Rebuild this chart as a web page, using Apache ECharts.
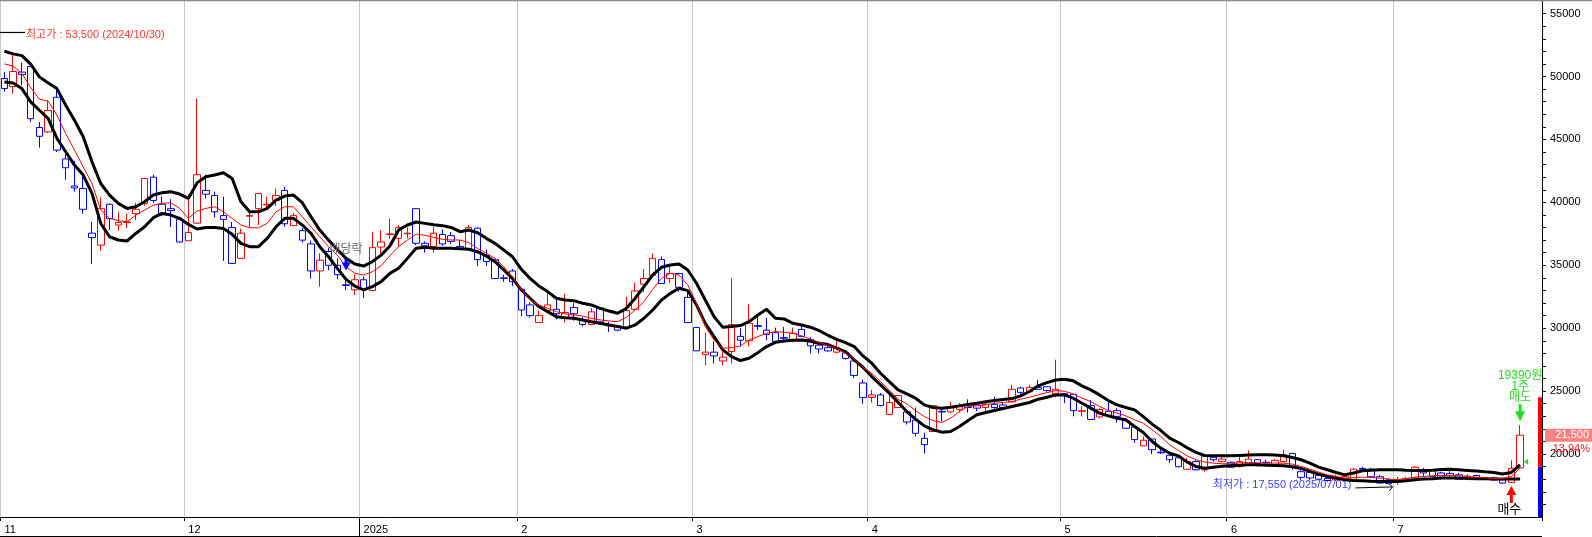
<!DOCTYPE html>
<html><head><meta charset="utf-8">
<script src="https://cdn.jsdelivr.net/npm/echarts@6/dist/echarts.min.js"></script>
<style>html,body{margin:0;padding:0;background:#fff}#c{width:1592px;height:537px}</style>
</head><body><div id="c"></div><script>
// ---- categories (trading days) ----
const dates = [
 '2024-11-01','2024-11-04','2024-11-05','2024-11-06','2024-11-07','2024-11-08','2024-11-11','2024-11-12','2024-11-13','2024-11-14','2024-11-15','2024-11-18','2024-11-19','2024-11-20','2024-11-21','2024-11-22','2024-11-25','2024-11-26','2024-11-27','2024-11-28','2024-11-29',
 '2024-12-02','2024-12-03','2024-12-04','2024-12-05','2024-12-06','2024-12-09','2024-12-10','2024-12-11','2024-12-12','2024-12-13','2024-12-16','2024-12-17','2024-12-18','2024-12-19','2024-12-20','2024-12-23','2024-12-24','2024-12-26','2024-12-27','2024-12-30',
 '2025-01-02','2025-01-03','2025-01-06','2025-01-07','2025-01-08','2025-01-09','2025-01-10','2025-01-13','2025-01-14','2025-01-15','2025-01-16','2025-01-17','2025-01-20','2025-01-21','2025-01-22','2025-01-23','2025-01-24','2025-01-31',
 '2025-02-03','2025-02-04','2025-02-05','2025-02-06','2025-02-07','2025-02-10','2025-02-11','2025-02-12','2025-02-13','2025-02-14','2025-02-17','2025-02-18','2025-02-19','2025-02-20','2025-02-21','2025-02-24','2025-02-25','2025-02-26','2025-02-27','2025-02-28',
 '2025-03-04','2025-03-05','2025-03-06','2025-03-07','2025-03-10','2025-03-11','2025-03-12','2025-03-13','2025-03-14','2025-03-17','2025-03-18','2025-03-19','2025-03-20','2025-03-21','2025-03-24','2025-03-25','2025-03-26','2025-03-27','2025-03-28','2025-03-31',
 '2025-04-01','2025-04-02','2025-04-03','2025-04-04','2025-04-07','2025-04-08','2025-04-09','2025-04-10','2025-04-11','2025-04-14','2025-04-15','2025-04-16','2025-04-17','2025-04-18','2025-04-21','2025-04-22','2025-04-23','2025-04-24','2025-04-25','2025-04-28','2025-04-29','2025-04-30',
 '2025-05-02','2025-05-07','2025-05-08','2025-05-09','2025-05-12','2025-05-13','2025-05-14','2025-05-15','2025-05-16','2025-05-19','2025-05-20','2025-05-21','2025-05-22','2025-05-23','2025-05-26','2025-05-27','2025-05-28','2025-05-29','2025-05-30',
 '2025-06-02','2025-06-04','2025-06-05','2025-06-09','2025-06-10','2025-06-11','2025-06-12','2025-06-13','2025-06-16','2025-06-17','2025-06-18','2025-06-19','2025-06-20','2025-06-23','2025-06-24','2025-06-25','2025-06-26','2025-06-27','2025-06-30',
 '2025-07-01','2025-07-02','2025-07-03','2025-07-04','2025-07-07','2025-07-08','2025-07-09','2025-07-10','2025-07-11','2025-07-14','2025-07-15','2025-07-16','2025-07-17','2025-07-18','2025-07-21'
];
const futureDates = ['2025-07-22','2025-07-23'];

// ---- prices ----
const openP = [
 49850,49200,50350,50800,45950,45600,48350,43450,41300,41100,37550,36600,39850,38200,38400,39100,39900,42000,39850,39500,38650,
 36950,38350,40950,40550,38950,38000,35550,38900,39500,39800,40150,40950,38150,37750,36700,34550,36100,35000,33450,33050,
 33850,33000,36450,37450,37150,37500,39500,36750,36500,37450,37350,36500,36300,37950,35800,35450,34000,34550,
 33100,31850,30450,31400,31500,30850,31650,30700,30300,31600,30250,30150,30050,31500,33500,34200,35450,33950,34350,32450,
 30050,27900,28100,27400,28150,29350,29000,30200,29850,29650,29250,29000,29900,29100,28650,28450,28100,28050,27400,25650,
 24500,24700,23150,23700,23350,22700,21250,21800,23400,23350,23550,23950,23900,23700,23950,23900,24150,25250,24950,25300,25350,24800,
 24800,24750,23400,23850,22950,23400,23450,22650,22150,20650,21200,20150,19900,19700,18800,19400,18750,19750,19400,
 19350,19000,19150,19550,19350,19150,19400,20050,18600,18550,18300,18050,17950,18000,17950,18850,18800,18200,17950,
 17850,17950,18100,18750,18700,18500,18450,18350,18050,18300,18000,18100,17950,17750,18900
];
const closeP = [
 49050,50400,50150,46650,45250,47300,44150,42750,41150,39450,37200,39500,38700,38400,38450,39450,41900,40150,39100,39350,36850,
 37600,42200,40650,39250,38650,35150,37550,38950,40700,39850,40550,38300,38950,37000,34550,35400,35000,34250,33400,33850,
 33150,36400,36850,37500,38000,37550,36750,36550,37550,36700,36900,36300,38000,35450,35300,33950,33950,33700,
 31450,31000,31000,31850,31150,31250,31150,30300,31300,30500,30200,29850,31400,32950,33950,35550,33550,34350,33250,30450,
 28200,28100,27800,27700,30300,29050,30400,30150,29500,28950,29200,29600,29350,28600,28350,28200,28450,27600,26250,24500,
 24700,23850,24100,24650,22550,21650,20750,23850,23350,23750,23850,23700,23650,23950,23700,23700,25150,24900,25300,25150,25050,25150,
 24700,23450,23450,22750,23550,23050,23000,22050,21150,21100,20350,20100,19550,19000,19400,18750,19850,19550,19600,
 18950,19400,19600,19250,19300,19500,19950,19000,18150,18100,18000,17900,18150,18200,18800,18800,18200,17700,17650,
 17950,18050,18950,18500,18200,18150,18300,18000,18250,18050,18100,17950,17700,18870,21500
];
const lowP = [
 48800,48650,49300,46400,44350,45500,44000,41800,40850,39100,35100,36150,37800,37750,37950,38600,39750,39950,38900,38050,36800,
 36950,38300,40300,38800,35350,35150,35550,38000,38200,39500,39700,38050,38150,36800,33950,33300,34600,33900,33050,32650,
 32400,32950,35950,37100,36500,37150,36600,36000,36000,36550,36700,36250,36300,34950,34950,33950,33700,33350,
 30950,30850,30450,31200,30700,30450,30600,30150,30250,30250,29700,29750,30000,31400,32850,34150,33550,33600,32900,30450,
 28200,27050,27200,27050,27200,28550,28550,29850,29050,28800,29050,28950,29350,28000,28000,28150,28000,27500,26050,24000,
 24100,23800,23150,23700,22350,21400,20050,21800,22600,23250,23300,23300,23400,23400,23450,23500,24100,24700,24850,25100,24950,24500,
 24050,23000,23000,22750,22850,22950,22500,22050,20900,20650,20000,20000,19300,18950,18750,18700,18600,19400,19350,
 18950,18950,19150,19000,19050,19050,19350,18750,17950,17950,17900,17800,17850,17900,17850,18600,18100,17650,17600,
 17550,17900,18000,18200,18150,17950,18200,17950,17950,17950,17950,17900,17650,17700,18850
];
const highP = [
 50350,51700,51100,51100,46400,48100,49200,44150,43300,42050,38450,40400,39900,39250,39100,39950,41950,42200,40450,40250,38850,
 40650,48250,42200,40850,40450,38450,37900,39350,40750,40450,41100,41250,39150,37950,36950,35950,36400,35550,33950,34250,
 34100,37650,37800,38700,38200,38000,39550,36900,38050,37850,37650,37000,38200,38000,36250,35450,34250,34700,
 33100,32050,31400,32850,32250,32750,32000,30900,31600,31650,30500,30250,32500,33600,34700,35950,35700,35000,34400,33050,
 30100,29650,28950,28150,33950,30000,31900,30900,30800,30050,30100,30050,30150,29300,28800,28800,29050,28200,27400,25900,
 25100,24850,24700,24700,23500,23700,21700,23850,23700,24150,24050,24350,24150,24100,24550,24150,25500,25350,25500,25900,25400,27500,
 24850,24750,23800,24300,23650,24100,23650,22850,22200,21400,21200,20450,19900,19800,19700,19550,19950,19850,20000,
 19400,19800,20300,19600,19550,19600,20350,20100,18900,18600,18450,18200,18350,18350,18900,19000,18900,18350,18100,
 18200,18200,19050,18900,18800,18600,18900,18500,18400,18350,18150,18200,18050,19500,22300
];
// ---- envelope bands (black) and moving average (red) ----
const upperBand = [
 52010,51800,51660,50980,49970,49490,49040,47720,46530,45210,43220,41500,40580,39920,39520,39650,40050,40580,40760,40840,40660,
 40310,41560,42030,42170,42350,41900,40050,39250,39250,39520,40180,40500,40580,39970,38860,37800,37000,36260,35550,35100,
 34940,35290,35810,36530,37800,38200,38440,38330,38220,38150,38010,37670,37800,37590,37140,36740,36210,35680,
 34680,33960,33360,32910,32380,32240,32190,31980,31850,31580,31370,31190,31580,32380,33300,34230,34840,35020,35100,34630,
 33570,32240,30920,30070,30130,30210,30520,31050,31500,30790,30740,30390,30260,30080,29810,29440,29120,28860,28540,27800,
 27220,26420,25760,25100,24780,24440,23910,23700,23650,23720,23830,23940,24040,24150,24250,24330,24410,24620,24970,25420,25680,25890,
 25950,25820,25420,25100,24700,24250,23910,23700,23510,22980,22380,21870,21260,20920,20500,20130,19890,19860,19860,
 19860,19890,19920,19940,19940,19920,19860,19730,19550,19280,18960,18750,18540,18350,18490,18670,18720,18750,18750,
 18750,18720,18700,18700,18720,18780,18800,18750,18700,18650,18590,18540,18410,18540,19150
];
const lowerBand = [
 49570,49490,49040,47990,47320,46660,45080,44020,42960,42170,40710,38330,37270,37010,36930,37530,38060,38780,39120,38990,38730,
 38250,37880,38010,38010,37930,37460,36740,36480,36480,37140,38060,38730,38730,38200,37530,36480,35680,34760,33880,33350,
 33040,33300,33700,34360,34760,35550,36350,36430,36350,36350,36350,36320,36270,36080,35740,35290,34630,33960,
 33040,32380,31720,31320,30920,30840,30790,30660,30520,30390,30260,30130,30000,30260,30790,31450,32240,32770,33170,32990,
 31850,30390,29330,28280,27750,27430,27610,28060,28540,28880,28990,29040,29070,28960,28810,28700,28410,28140,27480,26900,
 26160,25500,24840,24120,23380,22770,22240,21930,21740,21790,22190,22670,23120,23300,23460,23620,23780,23940,24100,24360,24520,24700,
 24700,24440,24040,23650,23250,23040,22850,22720,22190,21710,21000,20470,20070,19860,19360,19020,18880,18960,19040,
 19100,19120,19150,19150,19120,19100,19070,18990,18860,18620,18410,18220,18090,17960,17900,17880,17850,17830,17830,
 17830,17880,17960,18010,18040,18090,18090,18090,18060,18040,18040,18010,18010,18010,18010
];
const maLine = [
 51000,50820,50240,49120,48200,48040,46930,45470,44150,42830,41500,39390,38730,38540,38460,38990,39390,39780,39920,39970,39520,
 38730,39310,39520,39650,39250,38730,38200,37980,37980,38330,39250,39650,39650,38860,38060,37270,36480,35810,34890,34360,
 34230,34490,34970,35760,36480,37010,37480,37380,37220,37060,37010,37010,36800,36350,35950,35550,34890,34040,
 33090,32240,31850,31580,31320,31130,31050,30970,30790,30660,30580,30520,30870,31450,32110,33090,33960,34360,34230,33440,
 31980,30130,29070,28410,28460,28590,29070,29330,29600,29730,29680,29600,29390,29120,28860,28620,28410,28010,27560,26900,
 26420,25760,25100,24360,23990,23460,22980,22670,22510,22850,23380,23780,23830,23910,24040,24100,24170,24360,24520,24700,24890,25050,
 24990,24780,24440,24170,23780,23460,23250,23040,22720,22450,21930,21400,20730,20290,19860,19550,19360,19280,19230,
 19230,19310,19330,19310,19280,19280,19280,19200,19020,18800,18570,18350,18220,18090,18120,18170,18140,18090,18010,
 17960,18060,18170,18220,18280,18300,18300,18280,18220,18170,18120,18060,18040,18220,18880
];
// ---- axis ticks / labels ----
const yLabelValues = [20000,25000,30000,35000,40000,45000,50000,55000];
const yTickValues = [16000,17000,18000,19000,20000,21000,22000,23000,24000,25000,26000,27000,28000,29000,30000,31000,32000,33000,34000,35000,36000,37000,38000,39000,40000,41000,42000,43000,44000,45000,46000,47000,48000,49000,50000,51000,52000,53000,54000,55000];
// ---- annotations ----
const highInfo = {value:53500, text:'최고가 : 53,500 (2024/10/30)'};
const lowInfo = {index:159, value:17550, text:'최저가 : 17,550 (2025/07/01)'};
const dividendIndex = 39, dividendText = '배당락';
const buyIndex = 172, buyText = '매수';
const sellIndex = 173, sellPrice = 19390, sellTexts = ['19390원','1주','매도'];
const lastPriceText = '21,500', changeText = '13.94%';
const strengthBar = {top:24520, mid:18970, bottom:15000};

const cats = dates.concat(futureDates);
const ohlc = openP.map((o,i)=>[o, closeP[i], lowP[i], highP[i]]);
const isMonthStart = (i) => i===0 || cats[i].slice(0,7) !== cats[i-1].slice(0,7);
const fmtX = (v) => { const m = v.slice(5,7); return m==='01' ? v.slice(0,4) : String(parseInt(m,10)); };

const chart = echarts.init(document.getElementById('c'));
chart.setOption({
  animation:false,
  backgroundColor:'#fff',
  grid:{left:0,right:50,top:1,bottom:20},
  xAxis:{
    type:'category', data:cats, boundaryGap:true,
    axisLine:{show:true,lineStyle:{color:'#000',width:1}},
    axisTick:{show:true, interval:(i)=>isMonthStart(i), length:4, lineStyle:{color:'#000'}},
    axisLabel:{interval:(i)=>isMonthStart(i), formatter:fmtX, align:'left', color:'#000', fontSize:11, margin:7, fontFamily:'"Liberation Sans", Arial'},
    splitLine:{show:true, interval:(i)=>isMonthStart(i), lineStyle:{color:'#c8c8c8', width:1}}
  },
  yAxis:{
    type:'value', position:'right', min:15000, max:56000,
    axisLine:{show:true, lineStyle:{color:'#000'}},
    axisTick:{show:true, customValues:yTickValues, length:4, lineStyle:{color:'#000'}},
    axisLabel:{customValues:yLabelValues, color:'#000', fontSize:11, margin:8, fontFamily:'"Liberation Sans", Arial', formatter:(v)=>String(v)},
    splitLine:{show:false}
  },
  series:[
    {type:'candlestick', data:ohlc, barWidth:7, z:2,
     itemStyle:{color:'#fff', color0:'#fff', borderColor:'#ff0000', borderColor0:'#0000ff', borderWidth:1}},
    {type:'line', data:upperBand, symbol:'none', z:3, lineStyle:{color:'#000', width:3}},
    {type:'line', data:lowerBand, symbol:'none', z:3, lineStyle:{color:'#000', width:3}},
    {type:'line', data:maLine, symbol:'none', z:4, lineStyle:{color:'#ff0000', width:1}}
  ]
});

const P = (i,v)=>chart.convertToPixel({gridIndex:0},[i,v]);
const band = P(1,15000)[0]-P(0,15000)[0];
const axisX = P(cats.length-1,15000)[0] + band/2;
const axisY = P(0,strengthBar.bottom)[1];
const KFONT = '"Liberation Sans", Arial, "Noto Sans CJK KR"';
const g = [];
// frame
g.push({type:'line', z:50, shape:{x1:0,y1:0.5,x2:1592,y2:0.5}, style:{stroke:'#8c8c8c', lineWidth:1.5}});
g.push({type:'line', z:50, shape:{x1:0,y1:536.5,x2:axisX,y2:536.5}, style:{stroke:'#000', lineWidth:1}});
const yearX = Math.round(P(41,15000)[0]-band/2)+0.5;
g.push({type:'line', z:50, shape:{x1:yearX,y1:axisY,x2:yearX,y2:537}, style:{stroke:'#000', lineWidth:1}});
// highest price note
const hy = P(0,highInfo.value)[1];
g.push({type:'line', z:0, shape:{x1:0,y1:hy,x2:25,y2:hy}, style:{stroke:'#000', lineWidth:1.2}});
g.push({type:'text', z:0, x:26, y:hy+3, style:{text:highInfo.text, fill:'#ff3a3a', font:'11px '+KFONT, align:'left', verticalAlign:'middle'}});
// lowest price note
const [lx, ly] = P(lowInfo.index, lowInfo.value);
g.push({type:'text', z:0, x:lx-46, y:ly, style:{text:lowInfo.text, fill:'#3c3cff', font:'11px '+KFONT, align:'right', verticalAlign:'middle'}});
g.push({type:'polyline', z:0, shape:{points:[[lx-42,ly+3],[lx-5,ly+2]]}, style:{stroke:'#000', lineWidth:1, fill:null}});
g.push({type:'polyline', z:0, shape:{points:[[lx-8,ly-1],[lx-5,ly+2],[lx-8,ly+6]]}, style:{stroke:'#000', lineWidth:1, fill:null}});
// dividend note
const [dx, dy] = P(dividendIndex, highP[dividendIndex]);
g.push({type:'text', z:60, x:dx, y:dy-29, style:{text:dividendText, fill:'#666', font:'12px '+KFONT, align:'center', verticalAlign:'middle'}});
g.push({type:'rect', z:60, shape:{x:dx-1.5,y:dy-20,width:3,height:5}, style:{fill:'#0000ff'}});
g.push({type:'polygon', z:60, shape:{points:[[dx-4.5,dy-16],[dx+4.5,dy-16],[dx,dy-8]]}, style:{fill:'#0000ff'}});
// sell note
const [sx, sy] = P(sellIndex, highP[sellIndex]);
sellTexts.forEach((t,k)=>{
  g.push({type:'text', z:60, x:sx, y:sy-49+11*k, style:{text:t, fill:'#22dd22', font:'12px '+KFONT, align:'center', verticalAlign:'middle'}});
});
g.push({type:'rect', z:60, shape:{x:sx-1.5,y:sy-21,width:3,height:9}, style:{fill:'#22dd22'}});
g.push({type:'polygon', z:60, shape:{points:[[sx-5,sy-14],[sx+5,sy-14],[sx,sy-4]]}, style:{fill:'#22dd22'}});
const spY = P(sellIndex, sellPrice)[1];
g.push({type:'polygon', z:60, shape:{points:[[sx+4,spY],[sx+8,spY-3],[sx+8,spY+3]]}, style:{fill:'#22dd22'}});
// buy note
const [bx, by] = P(buyIndex, lowP[buyIndex]);
g.push({type:'polygon', z:60, shape:{points:[[bx,by+3],[bx-5,by+12],[bx+5,by+12]]}, style:{fill:'#ff0000'}});
g.push({type:'rect', z:60, shape:{x:bx-1.5,y:by+11,width:3,height:9}, style:{fill:'#ff0000'}});
g.push({type:'text', z:60, x:bx-2, y:by+26, style:{text:buyText, fill:'#000', font:'13px '+KFONT, align:'center', verticalAlign:'middle'}});
// strength bar on the axis
const sTop = P(0,strengthBar.top)[1], sMid = P(0,strengthBar.mid)[1];
g.push({type:'rect', z:55, shape:{x:axisX-4,y:sTop,width:4,height:sMid-sTop}, style:{fill:'#ff0000'}});
g.push({type:'rect', z:55, shape:{x:axisX-4,y:sMid,width:4,height:axisY-sMid}, style:{fill:'#0000ff'}});
// last price tag
const py = P(sellIndex, closeP[sellIndex])[1];
g.push({type:'rect', z:60, shape:{x:axisX+3,y:py-6.5,width:1592-axisX-3,height:13}, style:{fill:'#ff8080'}});
g.push({type:'text', z:61, x:1589, y:py, style:{text:lastPriceText, fill:'#fff', font:'11px '+KFONT, align:'right', verticalAlign:'middle'}});
g.push({type:'text', z:61, x:1590, y:py+14, style:{text:changeText, fill:'#ff2020', font:'11px '+KFONT, align:'right', verticalAlign:'middle'}});
chart.setOption({graphic:{elements:g}});
</script></body></html>
